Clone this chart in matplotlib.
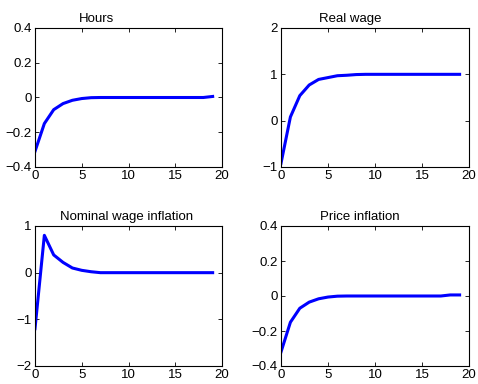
import matplotlib
matplotlib.use('Agg')
import matplotlib.pyplot as plt

plt.rcParams['font.family'] = ['Liberation Sans', 'DejaVu Sans']
plt.rcParams['font.size'] = 9.5

periods = list(range(20))

hours = [-0.31, -0.15, -0.07, -0.035, -0.016, -0.006, -0.001, 0, 0, 0,
         0, 0, 0, 0, 0, 0, 0, 0, 0, 0.006]
real_wage = [-0.92, 0.08, 0.54, 0.77, 0.89, 0.93, 0.97, 0.98, 0.995, 1.0,
             1.0, 1.0, 1.0, 1.0, 1.0, 1.0, 1.0, 1.0, 1.0, 1.0]
nominal_wage_infl = [-1.2, 0.8, 0.38, 0.22, 0.1, 0.05, 0.02, 0.0, 0, 0,
                     0, 0, 0, 0, 0, 0, 0, 0, 0, 0]
price_infl = [-0.32, -0.15, -0.07, -0.035, -0.016, -0.006, -0.001, 0, 0, 0,
              0, 0, 0, 0, 0, 0, 0, 0.0, 0.006, 0.006]

# title, data, y limits, y ticks, title centre (axes fraction)
panels = [
    ('Hours', hours, (-0.4, 0.4), [-0.4, -0.2, 0, 0.2, 0.4], 0.33),
    ('Real wage', real_wage, (-1, 2), [-1, 0, 1, 2], 0.367),
    ('Nominal wage inflation', nominal_wage_infl, (-2, 1), [-2, -1, 0, 1], 0.49),
    ('Price inflation', price_infl, (-0.4, 0.4), [-0.4, -0.2, 0, 0.2, 0.4], 0.42),
]

# axes positions in pixels: left, right, top, bottom
W, H = 478, 384
boxes = [(35, 222, 28, 167), (281, 469, 28, 167),
         (35, 222, 226, 366), (281, 469, 226, 366)]

fig = plt.figure(figsize=(W / 100, H / 100), dpi=100)

for (title, vals, ylim, yticks, tx), (l, r, t, b) in zip(panels, boxes):
    ax = fig.add_axes([l / W, 1 - b / H, (r - l) / W, (b - t) / H])
    ax.plot(periods, vals, color='#0000ff', linewidth=2.2)
    ax.set_xlim(0, 20)
    ax.set_ylim(*ylim)
    ax.set_xticks([0, 5, 10, 15, 20])
    ax.set_yticks(yticks)
    ax.set_yticklabels([('%g' % v).replace('-', '\u2212') for v in yticks])
    ax.tick_params(direction='in', top=True, right=True, length=3,
                   width=0.6, labelsize=9.5, pad=2.5)
    for s in ax.spines.values():
        s.set_linewidth(0.8)
    ax.set_title(title, fontsize=9.5, pad=4.5, x=tx)

fig.savefig('out.png', dpi=100)
